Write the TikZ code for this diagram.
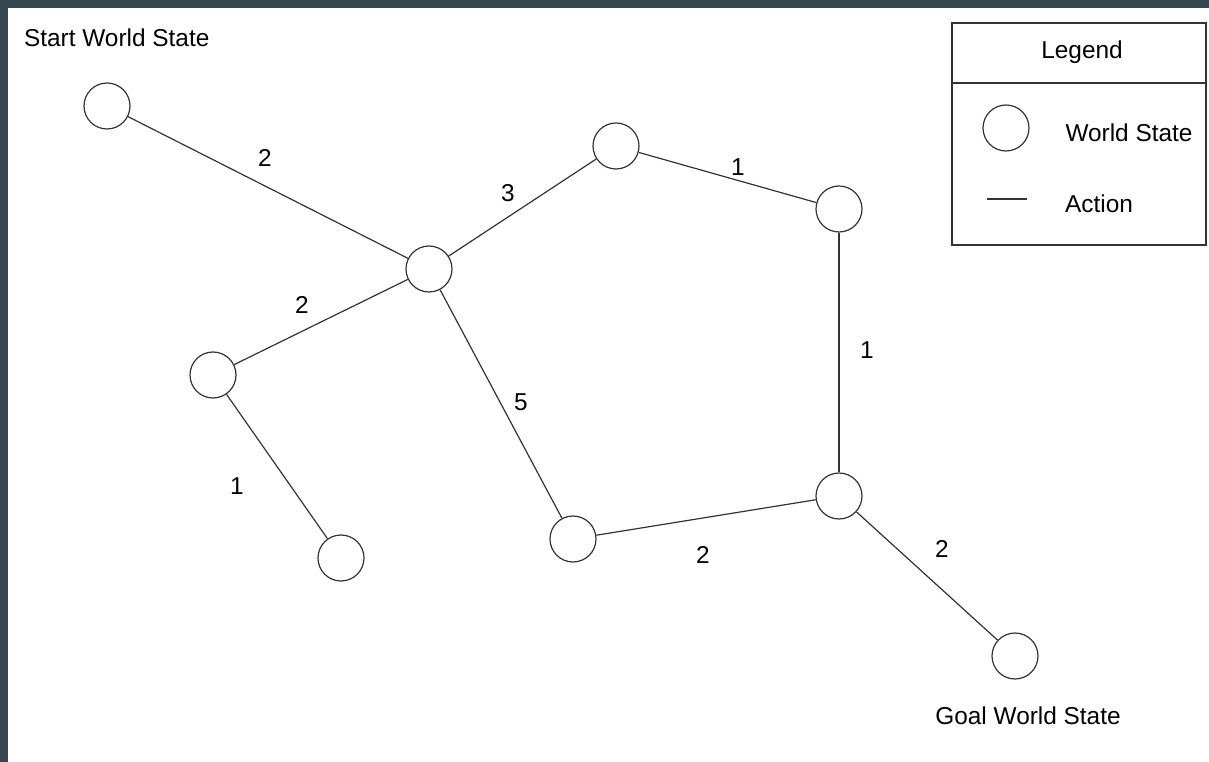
\documentclass[tikz,border=0pt]{standalone}
\usepackage{fontspec}
\setmainfont{Liberation Sans}
\definecolor{frame}{HTML}{37474F}
\definecolor{stroke}{HTML}{333333}

\begin{document}
\begin{tikzpicture}[x=0.75pt,y=-0.75pt,line width=0.9pt,draw=stroke,
  every node/.style={font=\fontsize{18.3}{21}\selectfont}]
\useasboundingbox (0,0) rectangle (1209,762);
\fill[frame] (0,0) rectangle (1209,8);
\fill[frame] (0,0) rectangle (8,762);
 \begin{scope}[every node/.style={draw=stroke, circle, minimum size=34.5pt, inner sep=0pt}]
  \node (start) at (107,106) {};
  \node (hub) at (429,269) {};
  \node (top) at (616,146) {};
  \node (rt) at (839,209) {};
  \node (rb) at (839,496) {};
  \node (bm) at (573,539) {};
  \node (lm) at (213,375) {};
  \node (lb) at (341,558) {};
  \node (goal) at (1015,656) {};
  \node (legws) at (1006,128) {};
 \end{scope}
  \path [-] (start) edge node {} (hub);
  \path [-] (hub) edge node {} (top);
  \path [-] (top) edge node {} (rt);
  \path [-] (rt) edge node {} (rb);
  \path [-] (hub) edge node {} (lm);
  \path [-] (lm) edge node {} (lb);
  \path [-] (hub) edge node {} (bm);
  \path [-] (bm) edge node {} (rb);
  \path [-] (rb) edge node {} (goal);
 % weights
  \node (w1) at (265,158) {2};
  \node (w2) at (508,193) {3};
  \node (w3) at (738,167) {1};
  \node (w4) at (867,350) {1};
  \node (w5) at (302,305) {2};
  \node (w6) at (237,486) {1};
  \node (w7) at (521,402) {5};
  \node (w8) at (703,555) {2};
  \node (w9) at (942,549) {2};
  \node[anchor=west] (slabel) at (19,38) {Start World State};
  \node (glabel) at (1028,716) {Goal World State};
 % legend
  \draw (952,23) rectangle (1206,245);
  \draw (952,83) -- (1206,83);
  \node (legtitle) at (1082,52) {Legend};
  \node (legwst) at (1129,133) {World State};
  \coordinate (la) at (987,199);
  \coordinate (lb2) at (1027,199);
  \draw[line width=0.8pt] (la) -- (lb2);
  \node (legact) at (1099,204) {Action};
\end{tikzpicture}
\end{document}
